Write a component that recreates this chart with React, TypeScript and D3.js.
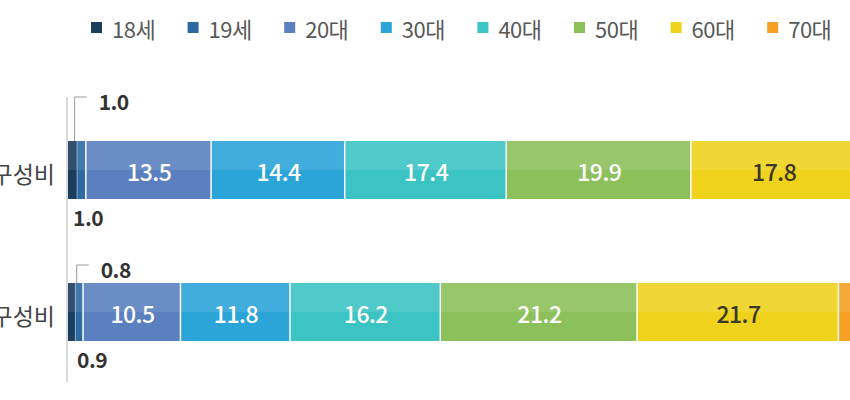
import * as d3 from "d3";

const rows = ["선거인수 구성비", "투표자수 구성비"];
const ageGroups = ["18세", "19세", "20대", "30대", "40대", "50대", "60대", "70대", "80세 이상"];
const electorateShare = [1.0, 1.0, 13.5, 14.4, 17.4, 19.9, 17.8, 9.4, 5.6];
const voterShare = [0.8, 0.9, 10.5, 11.8, 16.2, 21.2, 21.7, 11.4, 5.5];
const colors = ["#1b3d5e", "#2d6aa4", "#5b80c0", "#2ba4d8", "#3cc3c3", "#8cc05b", "#efd21c", "#f5a023", "#e8743b"];

const WIDTH = 850;
const HEIGHT = 400;
const FONT = "'Noto Sans CJK KR', 'Noto Sans', sans-serif";
// how far above each bar the small-value callout sits
const CALLOUT_RISE = [44, 18];
const BELOW_OFFSET = [5, 9];

export default function App() {
  const series = [electorateShare, voterShare];

  const x = d3.scaleLinear().domain([0, 100]).range([68, 996]);
  const y = d3.scaleBand().domain(rows).range([141, 341]).paddingInner(0.5915).paddingOuter(0);
  const bh = y.bandwidth();
  const fmt = d3.format(".1f");

  const stacks = series.map((vals) => {
    const ends = d3.cumsum(vals);
    return vals.map((v, i) => ({ v, i, x0: ends[i] - v, x1: ends[i] }));
  });

  const legendX = d3.scaleLinear().domain([0, 1]).range([91, 187.6]);

  return (
    <div style={{ position: "absolute", left: 0, top: 0 }}>
      <svg width={WIDTH} height={HEIGHT} style={{ display: "block", background: "#fff" }} fontFamily={FONT}>
        {/* legend */}
        {ageGroups.map((g, i) => (
          <g key={g} transform={`translate(${legendX(i)},0)`}>
            <rect x={0} y={22} width={11} height={11} fill={colors[i]} />
            <text x={21} y={28} dominantBaseline="central" fontSize={22} fill="#595959" letterSpacing={-0.5}>
              {g}
            </text>
          </g>
        ))}

        {/* axis line */}
        <line x1={x(0) - 1} x2={x(0) - 1} y1={97} y2={382} stroke="#cfcfcf" strokeWidth={1.5} />

        {rows.map((r, ri) => {
          const top = y(r) as number;
          const cy = top + bh / 2;
          const segs = stacks[ri];
          const s0 = segs[0];
          const s1 = segs[1];
          const leadX = (x(s0.x0) + x(s0.x1)) / 2 + 2 + ri * 3;
          const topLabelY = top - CALLOUT_RISE[ri];
          return (
            <g key={r}>
              <text x={55} y={cy + 3} textAnchor="end" dominantBaseline="central" fontSize={23} fill="#444">
                {r}
              </text>
              {segs.map((s) => {
                const gap = s.i === 0 ? 0.5 : 1.5;
                const w = Math.max(0, x(s.x1) - x(s.x0) - gap);
                return (
                  <g key={s.i}>
                    <rect x={x(s.x0)} y={top} width={w} height={bh} fill={colors[s.i]} />
                    <rect x={x(s.x0)} y={top} width={w} height={bh / 2} fill="#fff" opacity={0.1} />
                    {s.v >= 5 && (
                      <text
                        x={(x(s.x0) + x(s.x1)) / 2}
                        y={cy + 1}
                        textAnchor="middle"
                        dominantBaseline="central"
                        fontSize={23}
                        fontWeight={500}
                        letterSpacing={-0.5}
                        fill={s.i === 6 ? "#3b3826" : "#fff"}
                      >
                        {fmt(s.v)}
                      </text>
                    )}
                  </g>
                );
              })}
              {/* small-value callouts */}
              <path
                d={`M${leadX},${top} V${topLabelY} H${leadX + 12}`}
                fill="none"
                stroke="#9a9a9a"
                strokeWidth={1}
              />
              <text x={leadX + 24} y={topLabelY + 4} dominantBaseline="central" fontSize={21} fontWeight="bold" fill="#333" letterSpacing={-0.5}>
                {fmt(s0.v)}
              </text>
              <text x={x(0) + BELOW_OFFSET[ri]} y={top + bh + 18} dominantBaseline="central" fontSize={21} fontWeight="bold" fill="#333" letterSpacing={-0.5}>
                {fmt(s1.v)}
              </text>
            </g>
          );
        })}
      </svg>
    </div>
  );
}
